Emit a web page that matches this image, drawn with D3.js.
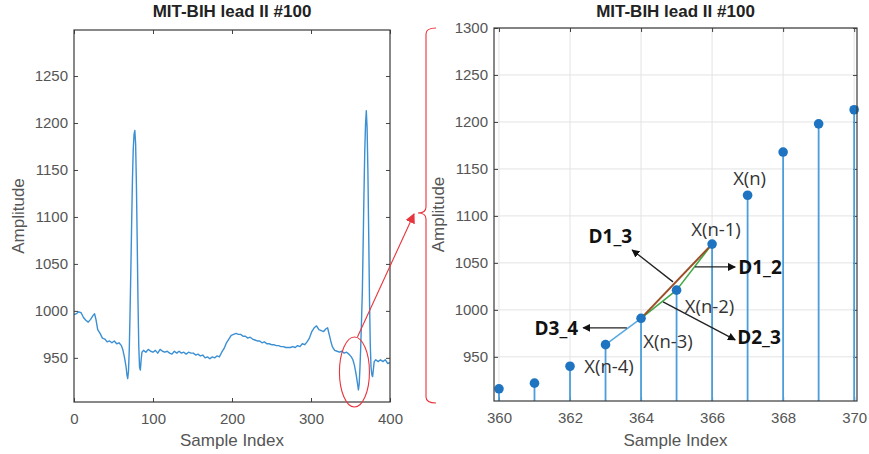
<!DOCTYPE html>
<html>
<head>
<meta charset="utf-8">
<script src="https://cdn.jsdelivr.net/npm/d3@7"></script>
<style>
body { margin: 0; background: #fff; }
.axis text { font-family: "Liberation Sans", Arial, sans-serif; font-size: 15px; fill: #555; }
.axis line { stroke: #444; }
.axis path { display: none; }
.title { font-family: "Liberation Sans", Arial, sans-serif; font-size: 17px; font-weight: bold; fill: #222; }
.label { font-family: "Liberation Sans", Arial, sans-serif; font-size: 17px; fill: #555; }
.pt-label { font-family: "Open Sans", sans-serif; font-size: 18.5px; fill: #333; }
.d-label { font-family: "Open Sans", sans-serif; font-size: 19px; font-weight: bold; fill: #111; }
</style>
</head>
<body>
<div id="chart"></div>
<script>

// ECG record #100, first 400 samples
var ecgIndex = [0, 3, 6, 9, 12, 15, 18, 21, 24, 26, 28, 30, 33, 36, 39, 42, 45, 48, 51, 54, 57, 60, 62, 64, 66, 67,
    68, 69, 70, 71, 72, 73, 74, 75, 76, 77, 78, 79, 80, 81, 82, 83, 84, 85, 86, 88, 91, 94, 97, 100, 103, 106,
    109, 112, 115, 118, 121, 124, 127, 130, 133, 136, 139, 142, 145, 148, 151, 154, 157, 160, 163, 166, 169, 172,
    175, 178, 181, 184, 187, 190, 193, 196, 199, 202, 205, 208, 211, 214, 217, 220, 223, 226, 229, 232, 235, 238,
    241, 244, 247, 250, 253, 256, 259, 262, 265, 268, 271, 274, 277, 280, 283, 286, 289, 292, 295, 298, 301, 304,
    307, 310, 313, 316, 319, 321, 323, 325, 327, 330, 333, 336, 339, 342, 345, 348, 351, 353, 355, 357, 359, 360,
    361, 362, 363, 364, 365, 366, 367, 368, 369, 370, 371, 372, 373, 374, 375, 376, 377, 378, 379, 380, 382, 385,
    388, 391, 394, 397, 400];
var ecgAmp = [996, 997, 999, 998, 993, 990, 988, 991, 995, 997, 990, 980, 976, 971, 970, 967, 968, 966, 968, 965, 966, 963, 958, 950, 940, 932,
    928, 936, 960, 1000, 1045, 1095, 1140, 1172, 1188, 1192, 1178, 1135, 1075, 1010, 962, 940, 937, 948, 956, 958, 956, 959, 957, 956, 958, 955,
    959, 957, 956, 957, 955, 954, 957, 955, 957, 955, 956, 954, 956, 955, 955, 953, 954, 952, 953, 950, 951, 949,
    951, 950, 952, 951, 956, 960, 966, 970, 974, 975, 976, 975, 975, 973, 973, 971, 972, 970, 969, 968, 968, 966,
    967, 965, 965, 964, 964, 963, 963, 962, 962, 961, 961, 961, 962, 961, 963, 962, 965, 964, 967, 971, 978, 982,
    984, 980, 979, 978, 981, 982, 975, 968, 962, 958, 957, 956, 957, 955, 956, 954, 951, 948, 942, 933, 922, 916,
    922, 940, 963, 991, 1021, 1070, 1122, 1168, 1198, 1213, 1195, 1150, 1085, 1015, 965, 940, 932, 930, 938, 946, 948, 946,
    948, 946, 948, 944, 945];

// zoomed window 360..370 (stem plot)
var stemIndex = [360, 361, 362, 363, 364, 365, 366, 367, 368, 369, 370];
var stemAmp = [916, 922, 940, 963, 991, 1021, 1070, 1122, 1168, 1198, 1213];

var leftXTicks = [0, 100, 200, 300, 400];
var leftYTicks = [950, 1000, 1050, 1100, 1150, 1200, 1250];
var rightXTicks = [360, 362, 364, 366, 368, 370];
var rightYTicks = [950, 1000, 1050, 1100, 1150, 1200, 1250, 1300];

var pointNames = ["X(n-4)", "X(n-3)", "X(n-2)", "X(n-1)", "X(n)"];
var pointAt = [362, 364, 365, 366, 367];
var diffNames = ["D1_2", "D1_3", "D2_3", "D3_4"];
var diffFrom = [365, 364, 364, 363];
var diffTo = [366, 366, 365, 364];

var titleText = "MIT-BIH lead II #100";

var W = 869, H = 454;
var fmt = d3.format("d");

var svg = d3.select("#chart").append("svg")
    .attr("width", W)
    .attr("height", H);

var defs = svg.append("defs");
defs.append("marker")
    .attr("id", "blackHead")
    .attr("viewBox", "0 0 10 10")
    .attr("refX", 9).attr("refY", 5)
    .attr("markerWidth", 8).attr("markerHeight", 8)
    .attr("markerUnits", "userSpaceOnUse")
    .attr("orient", "auto")
    .append("path").attr("d", "M0,0 L10,5 L0,10 z").attr("fill", "#111");
defs.append("marker")
    .attr("id", "redHead")
    .attr("viewBox", "0 0 10 10")
    .attr("refX", 9).attr("refY", 5)
    .attr("markerWidth", 10).attr("markerHeight", 10)
    .attr("markerUnits", "userSpaceOnUse")
    .attr("orient", "auto")
    .append("path").attr("d", "M0,0 L10,5 L0,10 z").attr("fill", "#e8343c");

// draw a MATLAB-like axes box with inward ticks on all four sides
function drawFrame(g, x, y, xTicks, yTicks, w, h, grid) {
    if (grid) {
        g.append("g").selectAll("line").data(xTicks).enter().append("line")
            .attr("x1", function(d) { return x(d); }).attr("x2", function(d) { return x(d); })
            .attr("y1", 0).attr("y2", h)
            .attr("stroke", "#e3e3e3").attr("stroke-width", 1);
        g.append("g").selectAll("line").data(yTicks).enter().append("line")
            .attr("y1", function(d) { return y(d); }).attr("y2", function(d) { return y(d); })
            .attr("x1", 0).attr("x2", w)
            .attr("stroke", "#e3e3e3").attr("stroke-width", 1);
    }
    g.append("g").attr("class", "axis")
        .attr("transform", "translate(0," + h + ")")
        .call(d3.axisBottom(x).tickValues(xTicks).tickFormat(fmt).tickSize(-4).tickPadding(11));
    g.append("g").attr("class", "axis")
        .call(d3.axisTop(x).tickValues(xTicks).tickSize(-4).tickFormat(""));
    g.append("g").attr("class", "axis")
        .call(d3.axisLeft(y).tickValues(yTicks).tickFormat(fmt).tickSize(-4).tickPadding(6));
    g.append("g").attr("class", "axis")
        .attr("transform", "translate(" + w + ",0)")
        .call(d3.axisRight(y).tickValues(yTicks).tickSize(-4).tickFormat(""));
}

function drawBox(g, w, h) {
    g.append("rect")
        .attr("width", w).attr("height", h)
        .attr("fill", "none").attr("stroke", "#3a3a3a").attr("stroke-width", 1.2);
}

// ---------- left panel: raw signal ----------
var L = {left: 74, top: 30, width: 316, height: 372};
var lg = svg.append("g").attr("transform", "translate(" + L.left + "," + L.top + ")");
var lx = d3.scaleLinear().domain([0, 400]).range([0, L.width]);
var ly = d3.scaleLinear().domain([903, 1299]).range([L.height, 0]);

drawFrame(lg, lx, ly, leftXTicks, leftYTicks, L.width, L.height, false);

var ecg = ecgIndex.map(function(d, i) { return {i: d, v: ecgAmp[i]}; });
lg.append("path")
    .datum(ecg)
    .attr("fill", "none")
    .attr("stroke", "#3b8fd3")
    .attr("stroke-width", 1.4)
    .attr("stroke-linejoin", "round")
    .attr("d", d3.line().x(function(d) { return lx(d.i); }).y(function(d) { return ly(d.v); }));

drawBox(lg, L.width, L.height);

lg.append("text").attr("class", "title")
    .attr("x", L.width / 2).attr("y", -13)
    .attr("text-anchor", "middle").text(titleText);
lg.append("text").attr("class", "label")
    .attr("x", L.width / 2).attr("y", L.height + 44)
    .attr("text-anchor", "middle").text("Sample Index");
lg.append("text").attr("class", "label")
    .attr("transform", "translate(-50," + (L.height / 2) + ") rotate(-90)")
    .attr("text-anchor", "middle").text("Amplitude");

// red ellipse around the Q dip before the second beat
lg.append("ellipse")
    .attr("cx", lx(355)).attr("cy", ly(935))
    .attr("rx", 15).attr("ry", 35)
    .attr("fill", "none").attr("stroke", "#e8343c").attr("stroke-width", 1.1);

// ---------- right panel: stem plot ----------
var R = {left: 494, top: 28, width: 363, height: 373};
var rg = svg.append("g").attr("transform", "translate(" + R.left + "," + R.top + ")");
var rx = d3.scaleLinear().domain([359.86, 370.08]).range([0, R.width]);
var ry = d3.scaleLinear().domain([903, 1300]).range([R.height, 0]);

drawFrame(rg, rx, ry, rightXTicks, rightYTicks, R.width, R.height, true);

var stems = stemIndex.map(function(d, i) { return {i: d, v: stemAmp[i]}; });
rg.append("g").selectAll("line").data(stems).enter().append("line")
    .attr("x1", function(d) { return rx(d.i); }).attr("x2", function(d) { return rx(d.i); })
    .attr("y1", R.height).attr("y2", function(d) { return ry(d.v); })
    .attr("stroke", "#4a9edb").attr("stroke-width", 1.8);

function stemVal(idx) { return stemAmp[stemIndex.indexOf(idx)]; }

// difference segments
var segColor = {"D1_2": "#43a845", "D2_3": "#43a845", "D1_3": "#9a4f27", "D3_4": "#5aaae0"};
var segOrder = ["D3_4", "D2_3", "D1_2", "D1_3"];
segOrder.forEach(function(name) {
    var k = diffNames.indexOf(name);
    rg.append("line")
        .attr("x1", rx(diffFrom[k])).attr("y1", ry(stemVal(diffFrom[k])))
        .attr("x2", rx(diffTo[k])).attr("y2", ry(stemVal(diffTo[k])))
        .attr("stroke", segColor[name])
        .attr("stroke-width", name === "D1_3" ? 2 : 1.6);
});

rg.append("g").selectAll("circle").data(stems).enter().append("circle")
    .attr("cx", function(d) { return rx(d.i); })
    .attr("cy", function(d) { return ry(d.v); })
    .attr("r", 4.8)
    .attr("fill", "#1f74c1");

drawBox(rg, R.width, R.height);

// point labels (offsets in px from their sample)
var ptOffset = {"X(n-4)": [39, -1], "X(n-3)": [27, 22], "X(n-2)": [33, 15], "X(n-1)": [4, -16], "X(n)": [2, -18]};
pointNames.forEach(function(name, k) {
    rg.append("text").attr("class", "pt-label")
        .attr("x", rx(pointAt[k]) + ptOffset[name][0])
        .attr("y", ry(stemVal(pointAt[k])) + ptOffset[name][1])
        .attr("text-anchor", "middle")
        .attr("dominant-baseline", "central")
        .text(name);
});

// black arrows with the difference names, in data units
var arrows = {
    "D1_2": {from: [365.52, 1045.7], to: [366.65, 1045.7], anchor: "start", tx: 3, ty: 0},
    "D1_3": {from: [364.9, 1029.8], to: [363.75, 1063.8], anchor: "end", tx: 0, ty: -14},
    "D2_3": {from: [364.62, 1008.5], to: [366.65, 968], anchor: "start", tx: 2, ty: -3},
    "D3_4": {from: [363.6, 980.9], to: [362.37, 980.9], anchor: "end", tx: -5, ty: 0}
};
diffNames.forEach(function(name) {
    var a = arrows[name];
    rg.append("line")
        .attr("x1", rx(a.from[0])).attr("y1", ry(a.from[1]))
        .attr("x2", rx(a.to[0])).attr("y2", ry(a.to[1]))
        .attr("stroke", "#222").attr("stroke-width", 1.3)
        .attr("marker-end", "url(#blackHead)");
    rg.append("text").attr("class", "d-label")
        .attr("x", rx(a.to[0]) + a.tx)
        .attr("y", ry(a.to[1]) + a.ty)
        .attr("text-anchor", a.anchor)
        .attr("dominant-baseline", "central")
        .text(name);
});

rg.append("text").attr("class", "title")
    .attr("x", R.width / 2).attr("y", -11)
    .attr("text-anchor", "middle").text(titleText);
rg.append("text").attr("class", "label")
    .attr("x", R.width / 2).attr("y", R.height + 45)
    .attr("text-anchor", "middle").text("Sample Index");
rg.append("text").attr("class", "label")
    .attr("transform", "translate(-50," + (R.height / 2) + ") rotate(-90)")
    .attr("text-anchor", "middle").text("Amplitude");

// ---------- red zoom bracket + arrow between panels ----------
var bx = 426, bTop = 28, bBot = 403, bMid = 213;
svg.append("path")
    .attr("d", "M" + (bx + 10) + "," + bTop + " Q" + bx + "," + bTop + " " + bx + "," + (bTop + 6) +
        " L" + bx + "," + (bMid - 6) + " Q" + bx + "," + bMid + " " + (bx - 8) + "," + bMid +
        " Q" + bx + "," + bMid + " " + bx + "," + (bMid + 6) +
        " L" + bx + "," + (bBot - 6) + " Q" + bx + "," + bBot + " " + (bx + 10) + "," + bBot)
    .attr("fill", "none").attr("stroke", "#e8343c").attr("stroke-width", 1.1);

svg.append("line")
    .attr("x1", L.left + lx(355) + 3).attr("y1", L.top + ly(935) - 35)
    .attr("x2", bx - 12).attr("y2", bMid + 1)
    .attr("stroke", "#e8343c").attr("stroke-width", 1.1)
    .attr("marker-end", "url(#redHead)");

</script>
</body>
</html>
